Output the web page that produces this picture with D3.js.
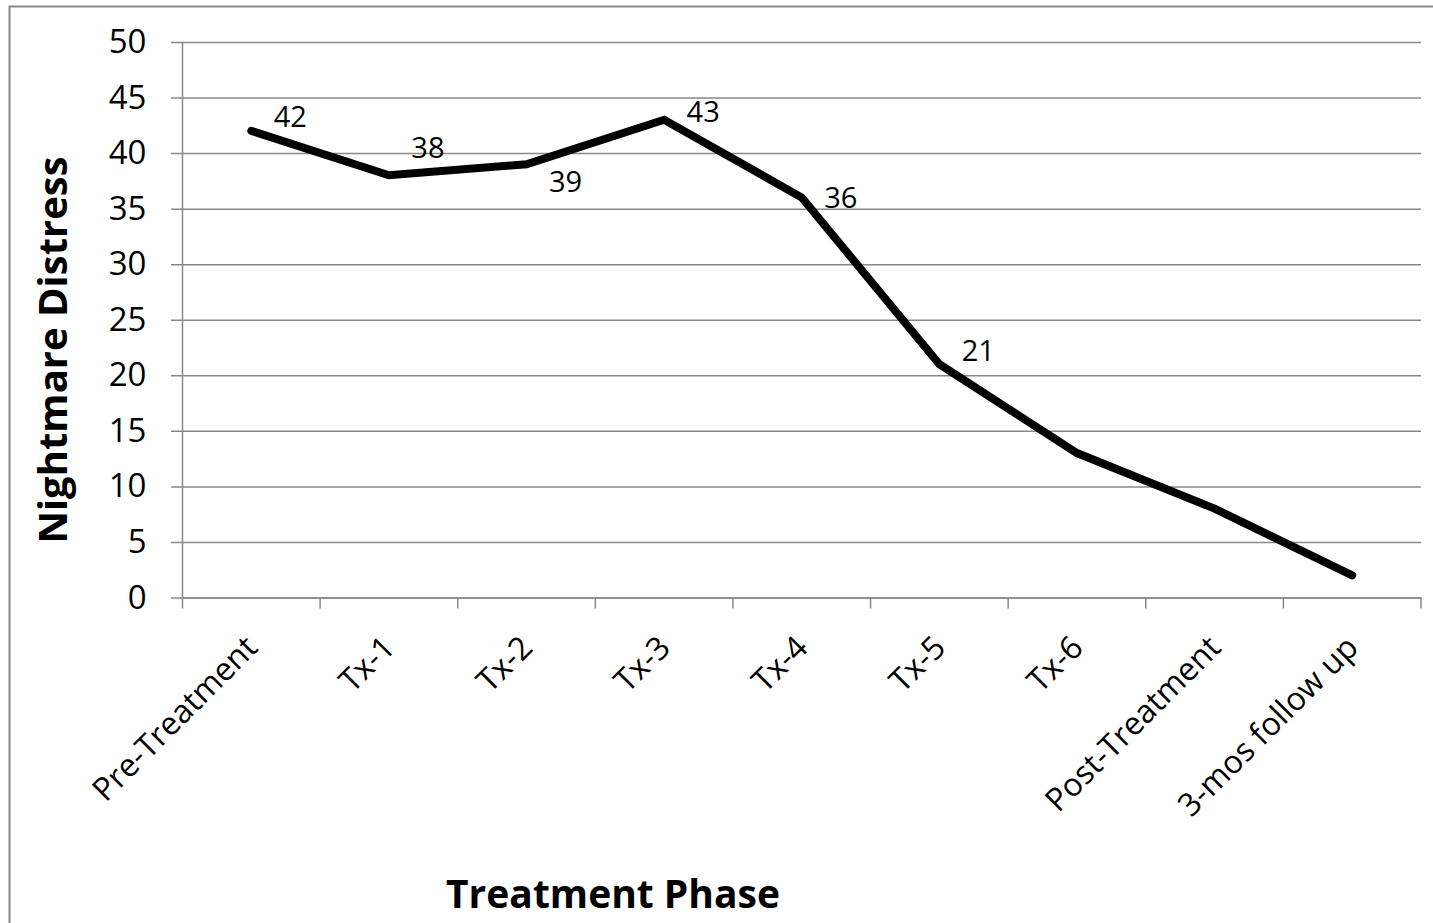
<!DOCTYPE html>
<html>
<head>
<meta charset="utf-8">
<script src="https://cdn.jsdelivr.net/npm/d3@7"></script>
<style>
  html, body { margin: 0; padding: 0; background: #fff; }
  svg { display: block; }
  text { font-family: "Open Sans", "Noto Sans", sans-serif; fill: #000; }
</style>
</head>
<body>
<svg id="chart" width="1433" height="923"></svg>
<script>
// ---- data ----
const categories = ["Pre-Treatment", "Tx-1", "Tx-2", "Tx-3", "Tx-4", "Tx-5", "Tx-6", "Post-Treatment", "3-mos follow up"];
const values = [42, 38, 39, 43, 36, 21, 13, 8, 2];
const labelled = [true, true, true, true, true, true, false, false, false];
const yTicks = [0, 5, 10, 15, 20, 25, 30, 35, 40, 45, 50];
const yTitle = "Nightmare Distress";
const xTitle = "Treatment Phase";

// ---- layout (styling, not data) ----
const labelDy = [-4, -17, 28, 2, 10, -3];
const plot = { left: 182.5, right: 1421, top: 42, bottom: 597.5 };
const gridColor = "#888888";

const svg = d3.select("#chart");

// chart border
svg.append("rect")
  .attr("x", 9.5).attr("y", 6.5)
  .attr("width", 1433).attr("height", 930)
  .attr("fill", "none").attr("stroke", gridColor).attr("stroke-width", 2);

const x = d3.scaleBand().domain(categories).range([plot.left, plot.right]).padding(0);
const y = d3.scaleLinear().domain([0, 50]).range([plot.bottom, plot.top]);

// gridlines + y ticks
const yAxis = d3.axisLeft(y).tickValues(yTicks).tickSize(-(plot.right - plot.left)).tickPadding(25).tickSizeOuter(0);
const gy = svg.append("g").attr("transform", `translate(${plot.left},0)`).call(yAxis);
gy.select(".domain").remove();
gy.selectAll(".tick line").attr("stroke", gridColor).attr("stroke-width", 1.5).attr("x1", -11.5);
gy.selectAll(".tick text").attr("font-size", 33).attr("font-family", "'Open Sans', sans-serif").attr("fill", "#000").attr("x", -36);

// y axis line
svg.append("line")
  .attr("x1", plot.left).attr("x2", plot.left)
  .attr("y1", plot.top).attr("y2", plot.bottom)
  .attr("stroke", gridColor).attr("stroke-width", 1.5);

// x axis
const xAxis = d3.axisBottom(x).tickSize(0).tickFormat("");
const gx = svg.append("g").attr("transform", `translate(0,${plot.bottom})`).call(xAxis);
gx.select(".domain").attr("stroke", gridColor).attr("stroke-width", 1.5);
gx.selectAll(".tick").remove();

// x tick marks at band boundaries
const boundaries = categories.map(c => x(c)).concat([x(categories[categories.length - 1]) + x.bandwidth()]);
svg.append("g").selectAll("line").data(boundaries).join("line")
  .attr("x1", d => d).attr("x2", d => d)
  .attr("y1", plot.bottom).attr("y2", plot.bottom + 11)
  .attr("stroke", gridColor).attr("stroke-width", 1.5);

// x category labels (rotated)
svg.append("g").selectAll("text").data(categories).join("text")
  .attr("transform", d => `translate(${x(d) + x.bandwidth() / 2 + 8},${plot.bottom + 52}) rotate(-45)`)
  .attr("text-anchor", "end")
  .attr("font-size", 32)
  .text(d => d);

// line
const line = d3.line()
  .x((d, i) => x(categories[i]) + x.bandwidth() / 2)
  .y(d => y(d));
svg.append("path")
  .datum(values)
  .attr("d", line)
  .attr("fill", "none")
  .attr("stroke", "#000")
  .attr("stroke-width", 8)
  .attr("stroke-linecap", "round")
  .attr("stroke-linejoin", "miter");

// data labels
const labelData = values.map((v, i) => ({ v, i })).filter(d => labelled[d.i]);
svg.append("g").selectAll("text").data(labelData).join("text")
  .attr("x", d => x(categories[d.i]) + x.bandwidth() / 2 + 39)
  .attr("y", (d, k) => y(d.v) + labelDy[k])
  .attr("text-anchor", "middle")
  .attr("font-size", 29)
  .text(d => d.v);

// axis titles
svg.append("text")
  .attr("transform", `translate(67,350) rotate(-90)`)
  .attr("text-anchor", "middle")
  .attr("font-size", 40)
  .attr("font-weight", "bold")
  .text(yTitle);

svg.append("text")
  .attr("x", 613).attr("y", 908)
  .attr("text-anchor", "middle")
  .attr("font-size", 39)
  .attr("font-weight", "bold")
  .text(xTitle);
</script>
</body>
</html>
